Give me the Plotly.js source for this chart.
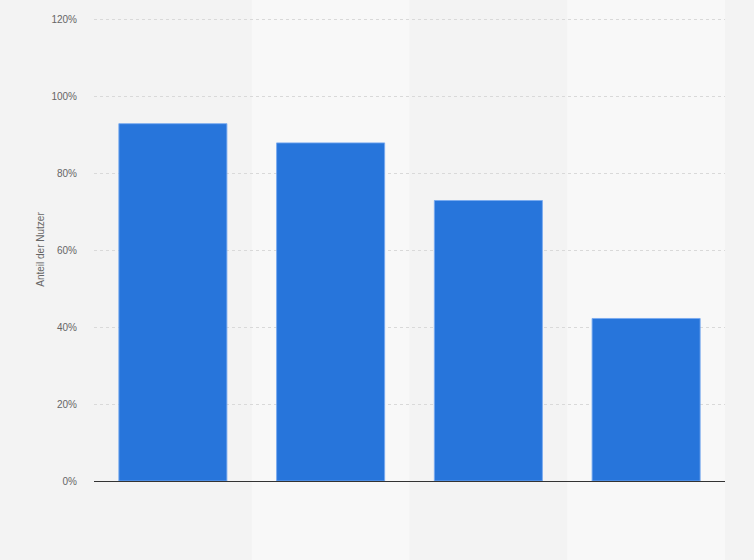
<!DOCTYPE html>
<html>
<head>
<meta charset="utf-8">
<script src="https://cdn.plot.ly/plotly-3.0.1.min.js"></script>
<style>
  html, body { margin: 0; padding: 0; background: #f3f3f3; }
  #chart { width: 754px; height: 560px; }
</style>
</head>
<body>
<div id="chart"></div>
<script>
// categories have no visible labels in the reference
var categories = ['Kategorie 1', 'Kategorie 2', 'Kategorie 3', 'Kategorie 4'];
var shares = [93, 88, 73, 42.3];
var yTicks = [0, 20, 40, 60, 80, 100, 120];
var yTickText = yTicks.map(function (v) { return v + '%'; });

// lighter band behind every second category
var bands = [];
categories.forEach(function (c, i) {
    if (i % 2 === 1) {
        bands.push({
            type: 'rect', layer: 'below',
            xref: 'x', yref: 'paper',
            x0: i - 0.5, x1: i + 0.5, y0: -1, y1: 2,
            fillcolor: '#f8f8f8', line: { width: 0 }
        });
    }
});

var data = [{
    type: 'bar',
    x: categories,
    y: shares,
    marker: {
        color: '#2775db',
        line: { color: 'rgba(120,170,240,0.9)', width: 1 }
    },
    hoverinfo: 'y'
}];

var layout = {
    width: 754,
    height: 560,
    margin: { l: 94, r: 29, t: 18, b: 79 },
    paper_bgcolor: '#f3f3f3',
    plot_bgcolor: 'rgba(0,0,0,0)',
    font: { family: 'Liberation Sans, Arial, sans-serif', size: 10, color: '#666666' },
    bargap: 0.315,
    showlegend: false,
    shapes: bands,
    xaxis: {
        type: 'category',
        showticklabels: false,
        showgrid: false,
        showline: true,
        linecolor: '#333333',
        linewidth: 1,
        ticks: ''
    },
    yaxis: {
        range: [0, 120.5],
        tickmode: 'array',
        tickvals: yTicks,
        ticktext: yTickText,
        showgrid: true,
        gridcolor: '#d9d9d9',
        griddash: 'dot',
        gridwidth: 1,
        zeroline: false,
        ticks: '',
        ticklabelstandoff: 16,
        title: {
            text: 'Anteil der Nutzer',
            font: { size: 10, color: '#666666' },
            standoff: 4
        }
    }
};

Plotly.newPlot('chart', data, layout, { displayModeBar: false, staticPlot: true });
</script>
</body>
</html>
